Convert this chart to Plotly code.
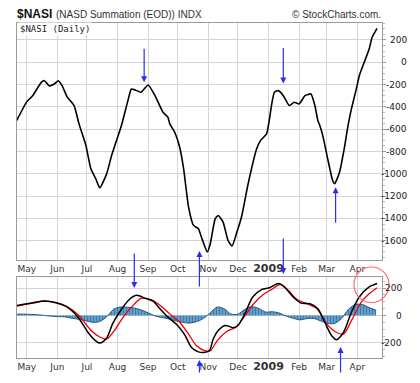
import plotly.graph_objects as go

# ---------------- data ----------------
nasi_dates = ["2008-04-21","2008-05-01","2008-05-07","2008-05-16","2008-05-19","2008-05-24","2008-05-29",
    "2008-06-02","2008-06-06","2008-06-11","2008-06-18","2008-06-23","2008-06-30","2008-07-05","2008-07-10",
    "2008-07-14","2008-07-21","2008-07-26","2008-07-31","2008-08-05","2008-08-12","2008-08-15","2008-08-18",
    "2008-08-25","2008-09-01","2008-09-08","2008-09-16","2008-09-21","2008-09-23","2008-09-26","2008-09-28",
    "2008-10-03","2008-10-07","2008-10-12","2008-10-17","2008-10-22","2008-10-25","2008-10-31","2008-11-03",
    "2008-11-08","2008-11-11","2008-11-16","2008-11-21","2008-11-25","2008-11-30","2008-12-05","2008-12-11",
    "2008-12-20","2008-12-24","2008-12-30","2009-01-02","2009-01-04","2009-01-07","2009-01-11","2009-01-16",
    "2009-01-22","2009-01-27","2009-02-01","2009-02-07","2009-02-13","2009-02-17","2009-02-20","2009-02-22",
    "2009-02-25","2009-03-02","2009-03-07","2009-03-09","2009-03-14","2009-03-19","2009-03-22","2009-03-26",
    "2009-03-31","2009-04-03","2009-04-08","2009-04-13","2009-04-16","2009-04-21"]
nasi_values = [-520,-355,-300,-177,-165,-212,-195,
    -165,-212,-311,-388,-552,-746,-955,-1044,
    -1125,-1000,-836,-702,-567,-328,-239,-245,
    -268,-203,-299,-447,-492,-552,-597,-627,
    -761,-955,-1298,-1462,-1492,-1566,-1700,-1626,
    -1402,-1373,-1432,-1597,-1647,-1522,-1373,-1104,
    -776,-700,-642,-507,-388,-268,-254,-299,
    -388,-358,-373,-299,-284,-388,-522,-567,
    -657,-865,-1060,-1089,-985,-761,-597,-418,
    -239,-120,0,119,224,304]

macd_dates = ["2008-04-21","2008-05-07","2008-05-19","2008-05-31","2008-06-10","2008-06-22","2008-07-02",
    "2008-07-09","2008-07-14","2008-07-21","2008-07-27","2008-08-03","2008-08-12","2008-08-20","2008-08-30",
    "2008-09-06","2008-09-13","2008-09-21","2008-09-30","2008-10-08","2008-10-15","2008-10-22","2008-10-27",
    "2008-11-02","2008-11-06","2008-11-11","2008-11-18","2008-11-23","2008-11-26","2008-12-01","2008-12-08",
    "2008-12-16","2008-12-25","2009-01-02","2009-01-11","2009-01-17","2009-01-26","2009-02-03","2009-02-12",
    "2009-02-20","2009-02-27","2009-03-06","2009-03-11","2009-03-18","2009-03-26","2009-04-03","2009-04-13",
    "2009-04-21"]
macd_values = [73,93,105,93,66,-12,-122,
    -179,-201,-164,-61,24,110,147,123,
    105,49,-12,-66,-140,-233,-265,-270,
    -257,-171,-110,-73,-81,-90,-73,12,
    135,189,203,233,208,135,90,86,
    49,-49,-147,-176,-122,24,135,208,
    233]

signal_dates = ["2008-04-21","2008-05-07","2008-05-19","2008-05-31","2008-06-13","2008-06-23","2008-07-05",
    "2008-07-14","2008-07-21","2008-07-29","2008-08-07","2008-08-17","2008-08-25","2008-09-03","2008-09-11",
    "2008-09-23","2008-10-03","2008-10-12","2008-10-20","2008-10-29","2008-11-03","2008-11-10","2008-11-20",
    "2008-11-29","2008-12-07","2008-12-17","2008-12-27","2009-01-04","2009-01-13","2009-01-21","2009-01-30",
    "2009-02-09","2009-02-19","2009-03-01","2009-03-09","2009-03-18","2009-03-26","2009-04-05","2009-04-13",
    "2009-04-21"]
signal_values = [68,90,105,93,56,-2,-108,
    -157,-172,-108,-10,76,125,117,86,
    12,-49,-135,-220,-257,-257,-184,-115,
    -86,-12,86,155,189,228,184,117,
    86,49,-61,-115,-135,-37,98,159,
    203]

hist_dates = ["2008-04-21","2008-04-28","2008-05-05","2008-05-12","2008-05-19","2008-05-26","2008-06-02",
    "2008-06-09","2008-06-16","2008-06-23","2008-06-30","2008-07-07","2008-07-14","2008-07-21","2008-07-28",
    "2008-08-04","2008-08-11","2008-08-18","2008-08-25","2008-09-01","2008-09-08","2008-09-15","2008-09-22",
    "2008-09-29","2008-10-06","2008-10-13","2008-10-20","2008-10-27","2008-11-03","2008-11-10","2008-11-17",
    "2008-11-24","2008-12-01","2008-12-08","2008-12-15","2008-12-22","2008-12-29","2009-01-05","2009-01-12",
    "2009-01-19","2009-01-26","2009-02-02","2009-02-09","2009-02-16","2009-02-23","2009-03-02","2009-03-09",
    "2009-03-16","2009-03-23","2009-03-30","2009-04-06","2009-04-13","2009-04-20"]
hist_values = [10,10,8,6,0,-5,-8,
    -10,-20,-28,-38,-50,-44,-10,45,
    62,60,55,40,20,-3,-15,-25,
    -38,-50,-55,-45,-22,20,62,50,
    10,10,45,65,52,25,28,18,
    -5,-20,-32,-22,-22,-40,-58,-58,
    -22,45,80,80,58,38]

month_ticks = ["2008-05-01","2008-06-01","2008-07-01","2008-08-01","2008-09-01","2008-10-01",
               "2008-11-01","2008-12-01","2009-01-01","2009-02-01","2009-03-01","2009-04-01"]
month_labels = ["May","Jun","Jul","Aug","Sep","Oct","Nov","Dec",
                "<span style='font-size:11px'><b>2009</b></span>","Feb","Mar","Apr"]
top_yticks = [200,0,-200,-400,-600,-800,-1000,-1200,-1400,-1600]
low_yticks = [200,0,-200]

# arrows: (date, value, tail offset in px)
top_arrows = [("2008-08-28",-179,-35),("2009-01-16",-190,-37),("2009-03-10",-1119,37)]

# ---------------- figure ----------------
W, H = 420, 383
def py(p):  # pixel y -> paper
    return 1 - p / H
def px(p):
    return p / W

fig = go.Figure()
fig.add_trace(go.Scatter(x=nasi_dates, y=nasi_values, mode="lines",
                         line=dict(color="black", width=1.6, shape="spline", smoothing=0.5),
                         xaxis="x", yaxis="y", showlegend=False))
fig.add_trace(go.Scatter(x=hist_dates, y=hist_values, mode="lines", fill="tozeroy",
                         line=dict(color="#1a4a7a", width=0.9, shape="spline", smoothing=0.8),
                         fillcolor="#5f9fd0",
                         fillpattern=dict(shape="|", fgcolor="#1a4a7a", bgcolor="#6aaad8",
                                          size=3, solidity=0.5),
                         xaxis="x2", yaxis="y2", showlegend=False))
fig.add_trace(go.Scatter(x=signal_dates, y=signal_values, mode="lines",
                         line=dict(color="#ee0000", width=1.3, shape="spline", smoothing=0.8),
                         xaxis="x2", yaxis="y2", showlegend=False))
fig.add_trace(go.Scatter(x=macd_dates, y=macd_values, mode="lines",
                         line=dict(color="black", width=1.5, shape="spline", smoothing=0.8),
                         xaxis="x2", yaxis="y2", showlegend=False))

xdom = [px(17), px(382)]
xrange_ = ["2008-04-21 04:00", "2009-04-26"]
tickfont = dict(family="DejaVu Sans", size=9, color="#333")
grid = "#d4d4d4"
border = "#9a9a9a"

common_x = dict(type="date", range=xrange_, domain=xdom, tickvals=month_ticks, ticktext=month_labels,
                tickfont=tickfont, showgrid=True, gridcolor=grid, gridwidth=1, showline=True,
                linecolor=border, mirror=True, ticks="", zeroline=False, tickangle=0)
fig.update_layout(
    width=W, height=H, margin=dict(l=0, r=0, t=0, b=0),
    paper_bgcolor="white", plot_bgcolor="white",
    xaxis=dict(**common_x, anchor="y"),
    xaxis2=dict(**common_x, anchor="y2"),
    yaxis=dict(domain=[py(260), py(23)], range=[-1772, 352], side="right", anchor="x",
               tickvals=top_yticks, showticklabels=False, showgrid=True, gridcolor=grid,
               showline=True, linecolor=border, mirror=True, ticks="outside", ticklen=3,
               tickcolor="#999", zeroline=False,
               minor=dict(dtick=50, ticks="outside", ticklen=2, tickcolor="#bbb", showgrid=False)),
    yaxis2=dict(domain=[py(358.3), py(276.7)], range=[-312, 283], side="right", anchor="x2",
                tickvals=low_yticks, showticklabels=False, showgrid=True, gridcolor=grid,
                showline=True, linecolor=border, mirror=True, ticks="outside", ticklen=3,
                tickcolor="#999", zeroline=False,
                minor=dict(dtick=50, ticks="outside", ticklen=2, tickcolor="#bbb", showgrid=False)),
)

ann = []
yfont = dict(family="DejaVu Sans", size=9, color="#222")
for v in top_yticks:
    ann.append(dict(x=px(409), xref="paper", y=v, yref="y", text=str(v), showarrow=False,
                    xanchor="right", yanchor="middle", font=yfont))
for v in low_yticks:
    ann.append(dict(x=px(404), xref="paper", y=v, yref="y2", text=str(v), showarrow=False,
                    xanchor="right", yanchor="middle", font=yfont))

# titles
ann.append(dict(x=px(15), y=py(14), xref="paper", yref="paper", xanchor="left", yanchor="middle",
                text="<b>$NASI</b>", showarrow=False,
                font=dict(family="Liberation Sans", size=12, color="#111")))
ann.append(dict(x=px(54), y=py(14.5), xref="paper", yref="paper", xanchor="left", yanchor="middle",
                text="(NASD Summation (EOD)) INDX", showarrow=False,
                font=dict(family="Liberation Sans", size=10, color="#333")))
ann.append(dict(x=px(383), y=py(14.5), xref="paper", yref="paper", xanchor="right", yanchor="middle",
                text="© StockCharts.com.", showarrow=False,
                font=dict(family="Liberation Sans", size=10, color="#333")))
ann.append(dict(x=px(18), y=py(29), xref="paper", yref="paper", xanchor="left", yanchor="middle",
                text="$NASI (Daily)", showarrow=False, bgcolor="white",
                font=dict(family="DejaVu Sans Mono", size=9, color="#222")))

arrow_style = dict(showarrow=True, arrowhead=2, arrowsize=1, arrowwidth=1.2, arrowcolor="#2b2bff",
                   axref="pixel", ayref="pixel", ax=0, text="")
for d, v, off in top_arrows:
    ann.append(dict(x=d, xref="x", y=v, yref="y", ay=off, **arrow_style))
# arrows crossing the panels / below
ann.append(dict(x="2008-08-18", xref="x", y=py(288), yref="paper", ay=-36, **arrow_style))
ann.append(dict(x="2008-10-23", xref="x", y=py(251), yref="paper", ay=37, **arrow_style))
ann.append(dict(x="2009-01-16", xref="x", y=py(274), yref="paper", ay=-37, **arrow_style))
ann.append(dict(x="2008-10-23", xref="x", y=py(360), yref="paper", ay=14, **arrow_style))
ann.append(dict(x="2009-03-15", xref="x", y=py(347), yref="paper", ay=27, **arrow_style))
fig.update_layout(annotations=ann)

fig.add_shape(type="circle", xref="paper", yref="paper",
              x0=px(354), x1=px(389), y0=py(302.5), y1=py(267),
              line=dict(color="#ff6b6b", width=1.2))

fig.write_html("out.html", config={"displayModeBar": False},
               post_script="document.body.style.margin='0';document.body.style.overflow='hidden';")
